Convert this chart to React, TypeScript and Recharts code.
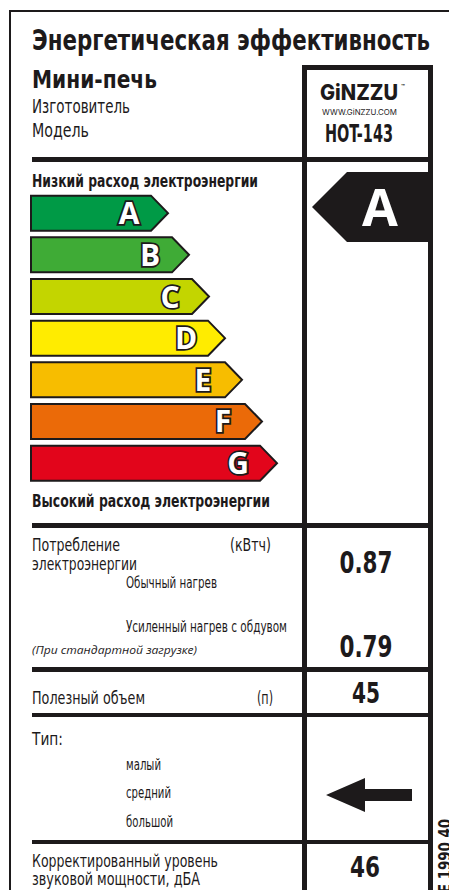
import React from 'react';
import { BarChart, Bar, XAxis, YAxis, Customized } from 'recharts';

// ---- data ----
const CLASSES = ['A', 'B', 'C', 'D', 'E', 'F', 'G'];
const CLASS_LENGTHS = [137, 158, 178, 194, 211, 231, 246];
const CLASS_COLORS = ['#009a46', '#3fab36', '#c3d500', '#ffec00', '#f7bd00', '#eb6a08', '#e2051b'];
const RATING = 'A';
const CONSUMPTION = ['0.87', '0.79'];
const VOLUME = '45';
const NOISE = '46';
const TYPES = ['малый', 'средний', 'большой'];

const data = CLASSES.map((cls, i) => ({ cls, value: CLASS_LENGTHS[i], color: CLASS_COLORS[i] }));

const INK = '#1d1a1b';
const FONT_C = "'Liberation Sans Narrow','DejaVu Sans Condensed',Roboto,sans-serif";
const FONT_B = "'Open Sans','DejaVu Sans',sans-serif";

type TP = {
  x: number; y: number; len?: number; size: number; bold?: boolean; italic?: boolean; weight?: number;
  anchor?: 'start' | 'middle' | 'end'; fill?: string; font?: string; children: React.ReactNode; transform?: string;
};
const T = ({ x, y, len, size, bold, italic, weight, anchor = 'start', fill = INK, font = FONT_C, children, transform }: TP) => (
  <text
    x={x}
    y={y}
    fontSize={size}
    fontFamily={font}
    fontWeight={weight ?? (bold ? 700 : 400)}
    fontStyle={italic ? 'italic' : 'normal'}
    textAnchor={anchor}
    fill={fill}
    transform={transform}
    {...(len ? { textLength: len, lengthAdjust: 'spacingAndGlyphs' } : {})}
  >
    {children}
  </text>
);

const Arrow = (props: any) => {
  const { x, y, width, height, payload } = props;
  const tip = 17;
  const pts = [
    [x, y],
    [x + width - tip, y],
    [x + width, y + height / 2],
    [x + width - tip, y + height],
    [x, y + height],
  ]
    .map((p) => p.join(','))
    .join(' ');
  return (
    <g>
      <polygon points={pts} fill={payload.color} stroke={INK} strokeWidth={2} strokeLinejoin="miter" />
      <text
        x={x + width - 39}
        y={y + height / 2 + 11}
        textAnchor="middle"
        fontSize={30}
        fontWeight={700}
        fontFamily={FONT_B}
        fill="#fff"
        stroke={INK}
        strokeWidth={3.5}
        style={{ paintOrder: 'stroke' }}
      >
        {payload.cls}
      </text>
    </g>
  );
};

const Frame = () => (
  <g>
    {/* outer frame */}
    <rect x={9} y={10} width={440} height={2} fill={INK} />
    <rect x={9} y={10} width={2} height={880} fill={INK} />
    {/* right column */}
    <rect x={302} y={65} width={131} height={5} fill={INK} />
    <rect x={302} y={65} width={5} height={825} fill={INK} />
    <rect x={428} y={65} width={5} height={825} fill={INK} />
    {/* separators */}
    <rect x={32} y={157} width={401} height={5} fill={INK} />
    <rect x={32} y={523} width={401} height={5} fill={INK} />
    <rect x={32} y={667} width={401} height={5} fill={INK} />
    <rect x={32} y={713} width={401} height={4} fill={INK} />
    <rect x={32} y={840} width={401} height={4} fill={INK} />

    {/* header */}
    <T x={32} y={50} len={398} size={29} bold>Энергетическая эффективность</T>
    <T x={32} y={88} len={125} size={24} bold>Мини-печь</T>
    <T x={32} y={113} len={98} size={20}>Изготовитель</T>
    <T x={32} y={137} len={57} size={20}>Модель</T>

    {/* brand box */}
    <T x={320} y={100} len={78} size={22} weight={800} font="Inter,'Open Sans',sans-serif">GiNZZU</T>
    <T x={401} y={89} size={6} bold font="Inter,sans-serif">™</T>
    <T x={322} y={115} len={75} size={7.5} font="Inter,'Open Sans',sans-serif">WWW.GiNZZU.COM</T>
    <T x={325} y={142} len={68} size={25} bold>HOT-143</T>

    {/* scale captions */}
    <T x={32} y={187} len={226} size={18} bold>Низкий расход электроэнергии</T>
    <T x={32} y={507} len={238} size={18} bold>Высокий расход электроэнергии</T>

    {/* rating arrow */}
    <polygon points="312,207 347,172 433,172 433,242 347,242" fill={INK} />
    <T x={380} y={226} size={52} bold anchor="middle" fill="#fff" font={FONT_B}>{RATING}</T>

    {/* consumption */}
    <T x={32} y={551} len={88} size={18}>Потребление</T>
    <T x={32} y={570} len={105} size={18}>электроэнергии</T>
    <T x={230} y={551} len={41} size={18}>(кВтч)</T>
    <T x={126} y={588} len={91} size={16}>Обычный нагрев</T>
    <T x={126} y={632} len={161} size={16}>Усиленный нагрев с обдувом</T>
    <T x={32} y={654} len={165} size={11} italic font="'Open Sans',sans-serif">(При стандартной загрузке)</T>
    <T x={366} y={573} len={53} size={31} bold anchor="middle">{CONSUMPTION[0]}</T>
    <T x={366} y={657} len={53} size={31} bold anchor="middle">{CONSUMPTION[1]}</T>

    {/* volume */}
    <T x={32} y={704} len={113} size={18}>Полезный объем</T>
    <T x={257} y={704} len={16} size={18}>(п)</T>
    <T x={366} y={703} len={28} size={29} bold anchor="middle">{VOLUME}</T>

    {/* type */}
    <T x={32} y={745} len={31} size={18}>Тип:</T>
    <T x={126} y={770} len={35} size={15}>{TYPES[0]}</T>
    <T x={126} y={798} len={45} size={15}>{TYPES[1]}</T>
    <T x={126} y={827} len={47} size={15}>{TYPES[2]}</T>
    <polygon points="326,795 365,778 365,789 412,789 412,801 365,801 365,812" fill={INK} />

    {/* noise */}
    <T x={32} y={867} len={186} size={18}>Корректированный уровень</T>
    <T x={32} y={885} len={168} size={18}>звуковой мощности, дБА</T>
    <T x={365} y={877} len={30} size={29} bold anchor="middle">{NOISE}</T>

    {/* side code */}
    <T x={0} y={0} len={74} size={18} bold anchor="end" transform="translate(451,819) rotate(-90)">E 1990 40</T>
  </g>
);

export default function App() {
  return (
    <div style={{ position: 'absolute', left: 0, top: 0, width: 449, height: 890, background: '#fff' }}>
      <BarChart
        width={449}
        height={890}
        data={data}
        layout="vertical"
        margin={{ top: 192.67, bottom: 405.67, left: 31, right: 18 }}
      >
        <XAxis type="number" domain={[0, 400]} hide />
        <YAxis type="category" dataKey="cls" hide />
        <Customized component={Frame} />
        <Bar dataKey="value" barSize={35} shape={Arrow} isAnimationActive={false} />
      </BarChart>
    </div>
  );
}
